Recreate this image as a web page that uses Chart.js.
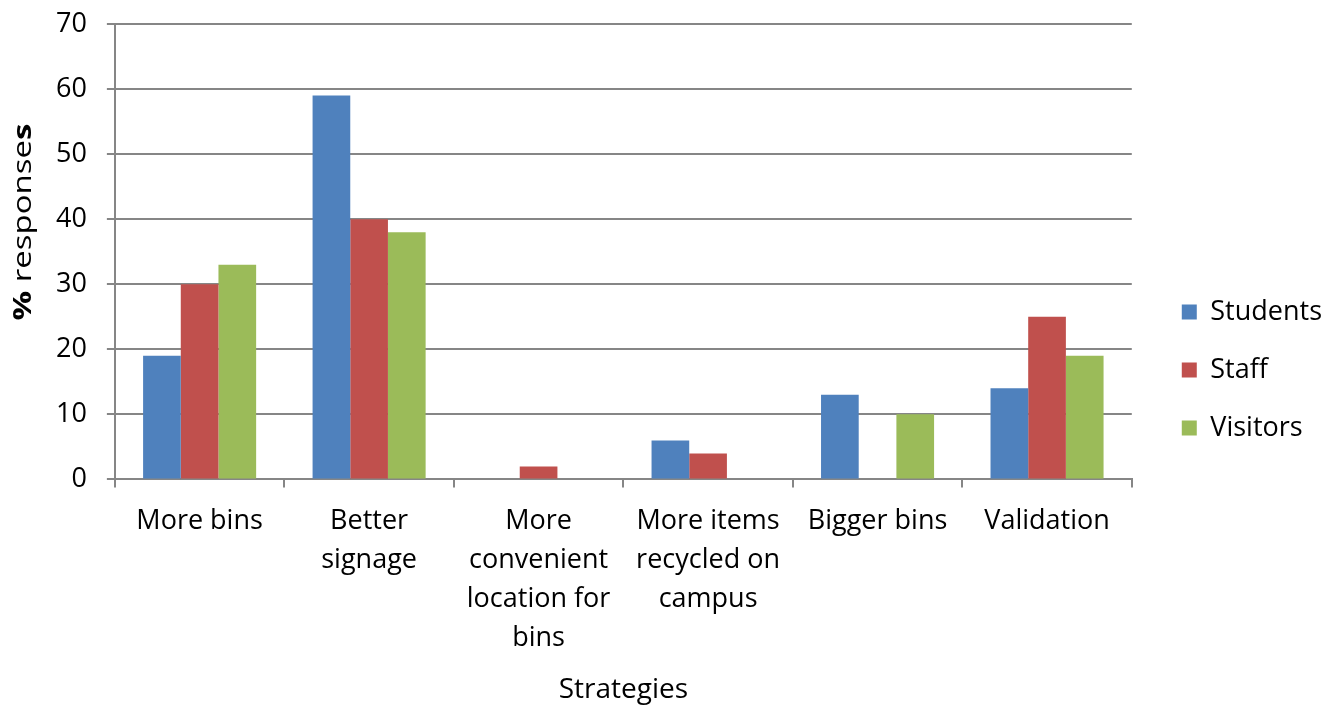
<!DOCTYPE html>
<html>
<head>
<meta charset="utf-8">
<script src="https://cdn.jsdelivr.net/npm/chart.js@4"></script>
<style>
  body { margin: 0; background: #fff; }
  #wrap { width: 1342px; height: 707px; }
</style>
</head>
<body>
<div id="wrap"><canvas id="barChart" width="1342" height="707"></canvas></div>
<script>
// data
const strategies = [
    "More bins",
    ["Better", "signage"],
    ["More", "convenient", "location for", "bins"],
    ["More items", "recycled on", "campus"],
    "Bigger bins",
    "Validation",
];
const students = [19, 59, 0, 6, 13, 14];
const staff = [30, 40, 2, 4, 0, 25];
const visitors = [33, 38, 0, 0, 10, 19];
const yTicks = [0, 10, 20, 30, 40, 50, 60, 70];

const fontName = "'Open Sans', 'Liberation Sans', sans-serif";
const fontSize = 27;
const gridGray = "#868686";

// y title has bold "%" and bold last "s" and is drawn a bit stretched,
// so draw it by hand
const yTitle = {
    id: "yTitle",
    afterDraw(chart) {
        const ctx = chart.ctx;
        const parts = [
            { t: "%", w: "bold" },
            { t: " response", w: "normal" },
            { t: "s", w: "bold" },
        ];
        ctx.save();
        ctx.fillStyle = "#000";
        ctx.textBaseline = "middle";
        let total = 0;
        parts.forEach((p) => {
            ctx.font = p.w + " 25px " + fontName;
            p.width = ctx.measureText(p.t).width;
            total += p.width;
        });
        const wanted = 197;
        ctx.translate(24, 222);
        ctx.rotate(-Math.PI / 2);
        ctx.scale(wanted / total, 1);
        let x = -total / 2;
        parts.forEach((p) => {
            ctx.font = p.w + " 25px " + fontName;
            ctx.fillText(p.t, x, 0);
            x += p.width;
        });
        ctx.restore();
    },
};

const ctx = document.getElementById("barChart");
chart = new Chart(ctx, {
    type: "bar",
    data: {
        labels: strategies,
        datasets: [
            { label: "Students", data: students, backgroundColor: "#4F81BD" },
            { label: "Staff", data: staff, backgroundColor: "#C0504D" },
            { label: "Visitors", data: visitors, backgroundColor: "#9BBB59" },
        ],
    },
    options: {
        responsive: false,
        animation: false,
        datasets: {
            bar: { categoryPercentage: 0.667, barPercentage: 1.0 },
        },
        layout: {
            autoPadding: false,
            padding: { left: 36, top: 24, right: 10, bottom: 0 },
        },
        plugins: {
            legend: {
                position: "right",
                title: {
                    // empty title, only pushes the items down a little
                    display: true,
                    text: "",
                    font: { size: 5, lineHeight: 1 },
                    padding: { top: 2, bottom: 2 },
                },
                labels: {
                    font: { family: fontName, size: fontSize },
                    color: "#000",
                    boxWidth: 15,
                    boxHeight: 15,
                    padding: 31,
                },
            },
            tooltip: { enabled: false },
        },
        scales: {
            x: {
                grid: {
                    offset: true,
                    drawOnChartArea: false,
                    tickLength: 8,
                    color: gridGray,
                    lineWidth: 2,
                },
                border: { color: gridGray, width: 2 },
                ticks: {
                    font: { family: fontName, size: fontSize, lineHeight: 1.435 },
                    color: "#000",
                    maxRotation: 0,
                    autoSkip: false,
                    padding: 15,
                },
                title: {
                    display: true,
                    text: "Strategies",
                    font: { family: fontName, size: 28 },
                    color: "#000",
                    padding: { top: 1, bottom: 0 },
                },
            },
            y: {
                min: yTicks[0],
                max: yTicks[yTicks.length - 1],
                afterBuildTicks: (scale) => {
                    scale.ticks = yTicks.map((v) => ({ value: v }));
                },
                afterFit: (scale) => {
                    // tick padding would otherwise push the plot top down
                    scale.paddingTop = 0;
                    scale.paddingBottom = 0;
                },
                grid: { tickLength: 8, color: gridGray, lineWidth: 2 },
                border: { color: gridGray, width: 2 },
                ticks: {
                    font: { family: fontName, size: fontSize },
                    color: "#000",
                    padding: 20,
                },
            },
            // empty box between plot and legend
            gap: {
                position: "right",
                grid: { display: false },
                border: { display: false },
                ticks: { display: false },
                afterFit: (scale) => {
                    scale.width = 19;
                },
            },
        },
    },
    plugins: [yTitle],
});
</script>
</body>
</html>
